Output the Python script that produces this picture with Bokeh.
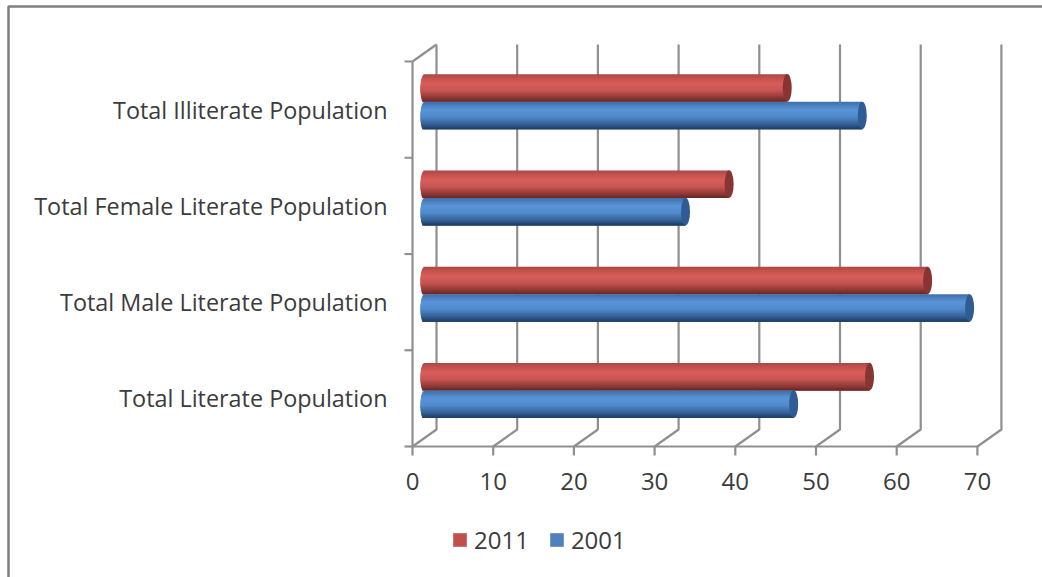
import numpy as np
from bokeh.plotting import figure
from bokeh.core.properties import value
from bokeh.models import Legend, LegendItem, Range1d
from bokeh.embed import file_html
from bokeh.resources import INLINE

categories = ["Total Literate Population", "Total Male Literate Population",
              "Total Female Literate Population", "Total Illiterate Population"]
values_2011 = [56.2, 63.4, 38.8, 46.0]
values_2001 = [46.8, 68.6, 33.4, 55.3]
x_ticks = [0, 10, 20, 30, 40, 50, 60, 70]

FONT = "Open Sans"
TEXT = "#3c3c3c"
GRID = "#8f8f8f"
W, H = 1042, 577
X0, Y0 = 412, 446  # pixel position of the axes' origin
PX_X = 80.7 / 10   # px per x unit
PX_Y = 96.25       # px per category band
DX, DY = 24 / PX_X, 17 / PX_Y
BASE = 8 / PX_X
LIFT = 8 / PX_Y
THICK = 27.5 / PX_Y
RX_R, RX_L = 4.5 / PX_X, 4.0 / PX_X
LW = 2.2

def dx(px):
    return (px - X0) / PX_X

def dy(px):
    return (Y0 - px) / PX_Y

p = figure(width=W, height=H, output_backend="svg", toolbar_location=None,
           x_range=Range1d(dx(0), dx(W)), y_range=Range1d(dy(H), dy(0)),
           x_axis_location=None, y_axis_location=None, min_border=0,
           background_fill_color="white", border_fill_color="white", outline_line_color=None)
p.grid.visible = False

# outer chart border, open to the page's right and bottom edges
p.line([dx(W), dx(8), dx(8)], [dy(6), dy(6), dy(H)], line_color="#7f7f7f", line_width=2.5)

# back wall
xs = [[v, v + DX, v + DX] for v in x_ticks]
ys = [[0, DY, 4 + DY] for v in x_ticks]
xs.append([0, DX]); ys.append([4, 4 + DY])
p.multi_line(xs, ys, line_color=GRID, line_width=LW)

# y axis line, then baseline with its x ticks, as one continuous path
TICK = 9 / PX_Y
path_x = [0.0, 0.0]
path_y = [4.0, 0.0]
for v in x_ticks:
    path_x += [float(v), float(v), float(v)]
    path_y += [0.0, -TICK, 0.0]
p.line(path_x, path_y, line_color=GRID, line_width=LW)

# y ticks at the band edges
band_edges = [0, 1, 2, 3, 4]
p.quad(left=[-8 / PX_X] * len(band_edges),
       right=[0.0] * len(band_edges),
       top=[e + LW / 2 / PX_Y for e in band_edges],
       bottom=[e - LW / 2 / PX_Y for e in band_edges],
       fill_color=GRID, line_color=None)

def lerp(stops, t):
    ts = [s[0] for s in stops]
    rgb = [np.interp(t, ts, [int(s[1][i:i + 2], 16) for s in stops]) for i in (1, 3, 5)]
    return "#%02x%02x%02x" % tuple(int(round(c)) for c in rgb)

RED = [(0, "#a64543"), (.1, "#bd4e4c"), (.35, "#d95e5b"), (.6, "#c65452"), (.85, "#8e3936"), (1, "#6a2725")]
BLUE = [(0, "#3f6fa8"), (.3, "#5a94d9"), (.55, "#508acb"), (.8, "#366299"), (1, "#1f3b63")]

def cylinders(vals, centre_shift, stops, cap):
    n = 24
    for k in range(n):
        t = (k + .5) / n
        u = 2 * t - 1
        inset = RX_L * (1 - np.sqrt(1 - u * u))
        top = .5 - k / n
        # each strip reaches under the next one, so no seams show between them
        bottom = max(top - 3 / n, -.5)
        centre = (top + bottom) / 2
        ys_ = [i + .5 + LIFT + centre_shift + THICK * centre for i in range(4)]
        rights = [BASE + v - RX_R for v in vals]
        p.hbar(y=ys_, left=[BASE + inset] * 4, right=rights, height=THICK * (top - bottom),
               fill_color=lerp(stops, t), line_color=None)
    p.ellipse(x=[BASE + v - RX_R for v in vals],
              y=[i + .5 + LIFT + centre_shift for i in range(4)],
              width=2 * RX_R, height=THICK, fill_color=cap, line_color=None)

cylinders(values_2011, THICK / 2, RED, "#873432")
cylinders(values_2001, -THICK / 2, BLUE, "#2f5c92")

# tick labels
p.text(x=[float(v) for v in x_ticks], y=[0.0] * len(x_ticks), text=[str(v) for v in x_ticks],
       x_offset=0, y_offset=35, text_align="center", text_baseline="middle",
       text_font=value(FONT), text_font_size="24px", text_color=TEXT)
p.text(x=[0.0] * 4, y=[i + .5 for i in range(4)], text=categories,
       x_offset=-25, y_offset=0, text_align="right", text_baseline="middle",
       text_font=value(FONT), text_font_size="23.4px", text_color=TEXT)

# legend
r1 = p.rect(x=[float("nan")], y=[float("nan")], width=1, height=1, fill_color="#c0504d", line_color=None)
r2 = p.rect(x=[float("nan")], y=[float("nan")], width=1, height=1, fill_color="#4f81bd", line_color=None)
lg = Legend(items=[LegendItem(label="2011", renderers=[r1]), LegendItem(label="2001", renderers=[r2])],
            orientation="horizontal", location=(451, 21), background_fill_alpha=0,
            border_line_color=None, label_text_font=FONT, label_text_font_size="24px",
            label_text_color=TEXT, glyph_width=17, glyph_height=17, spacing=19,
            label_standoff=6, margin=0, padding=0)
p.add_layout(lg, "center")

open("out.html", "w").write(file_html(p, INLINE))
